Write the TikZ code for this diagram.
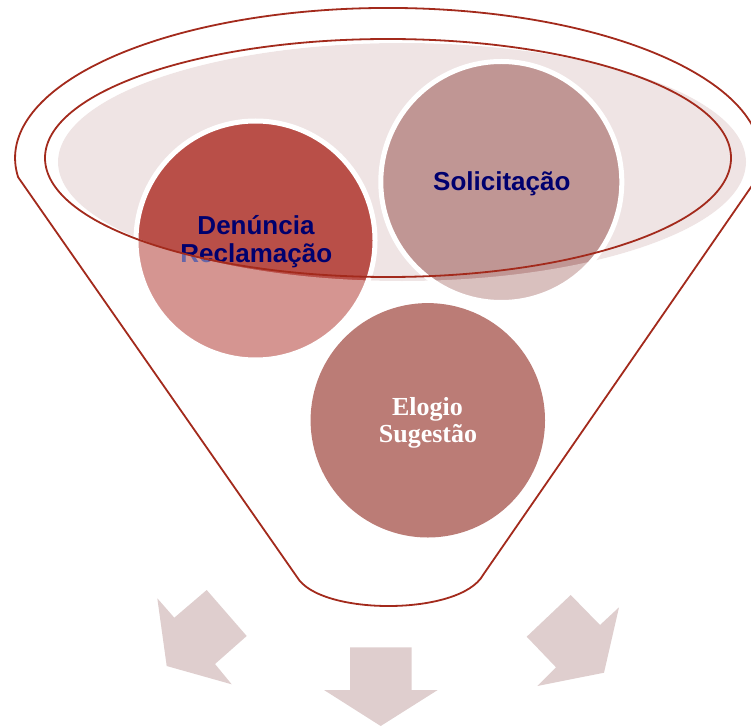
\documentclass[tikz,border=0pt]{standalone}
\usepackage{fontspec}
\newfontfamily\sansb{Liberation Sans}
\newfontfamily\serifb{Liberation Serif}
\definecolor{outl}{RGB}{163,42,28}
\definecolor{topfill}{RGB}{239,228,228}
\definecolor{cden}{RGB}{185,79,72}
\definecolor{csol}{RGB}{192,150,148}
\definecolor{celo}{RGB}{187,124,118}
\definecolor{carrow}{RGB}{223,206,206}
\definecolor{navytext}{RGB}{0,0,110}
\tikzset{
  bubble/.style={line width=5pt, draw=white},
  bluelabel/.style={anchor=base, inner sep=0pt, text=navytext, font=\sansb\bfseries\fontsize{26}{28}\selectfont},
  whitelabel/.style={anchor=base, inner sep=0pt, text=white, font=\serifb\bfseries\fontsize{26}{28}\selectfont},
  outline/.style={draw=outl, line width=1.8pt, line join=round},
  flowarrow/.style={fill=carrow, draw=none}
}
\begin{document}
\begin{tikzpicture}[x=1pt, y=-1pt]
\useasboundingbox (0,0) rectangle (751,727);
% top ellipse fill
\fill[topfill] (402,162) ellipse [x radius=344pt, y radius=119pt];
% upper circles
\filldraw[bubble, fill=cden] (255.5,240.5) circle [radius=119.5pt];
\filldraw[bubble, fill=csol] (501.3,182) circle [radius=120.5pt];
\node[bluelabel] (den1) at (256,234.3) {Denúncia};
\node[bluelabel] (den2) at (256.3,262.7) {Reclamação};
\node[bluelabel] (sol) at (501.8,190.7) {Solicitação};
% semi-transparent funnel body
\fill[white, opacity=0.4, even odd rule] (0,0) rectangle (751,727)
  (402,162) ellipse [x radius=344pt, y radius=119pt];
% funnel outline
\draw[outline] (18,177) -- (297,577) .. controls (320,616) and (460,616) .. (483,575)
  -- (758,177) arc [start angle=-7.3, end angle=187.3, x radius=373pt, y radius=150pt] -- cycle;
\draw[outline] (388,158) ellipse [x radius=343pt, y radius=119pt];
% lower circle
\fill[celo] (427.8,420.3) circle [radius=117.2pt];
\node[whitelabel] (elo1) at (427.5,415) {Elogio};
\node[whitelabel] (elo2) at (428,442.7) {Sugestão};
% arrows
\fill[flowarrow] (157.3,598.3) -- (174.3,617.7) -- (206.7,590) -- (246.7,636) -- (215,664) -- (231.7,684.3) -- (166.7,666) -- cycle;
\fill[flowarrow] (350,647.3) -- (411.7,647.3) -- (411.7,690) -- (437.7,690) -- (380.7,726) -- (324,690) -- (350,690) -- cycle;
\fill[flowarrow] (570.7,595) -- (600,625) -- (619,607.3) -- (604,672.7) -- (537.3,686) -- (556,667.3) -- (526.7,636.7) -- cycle;
\end{tikzpicture}
\end{document}
